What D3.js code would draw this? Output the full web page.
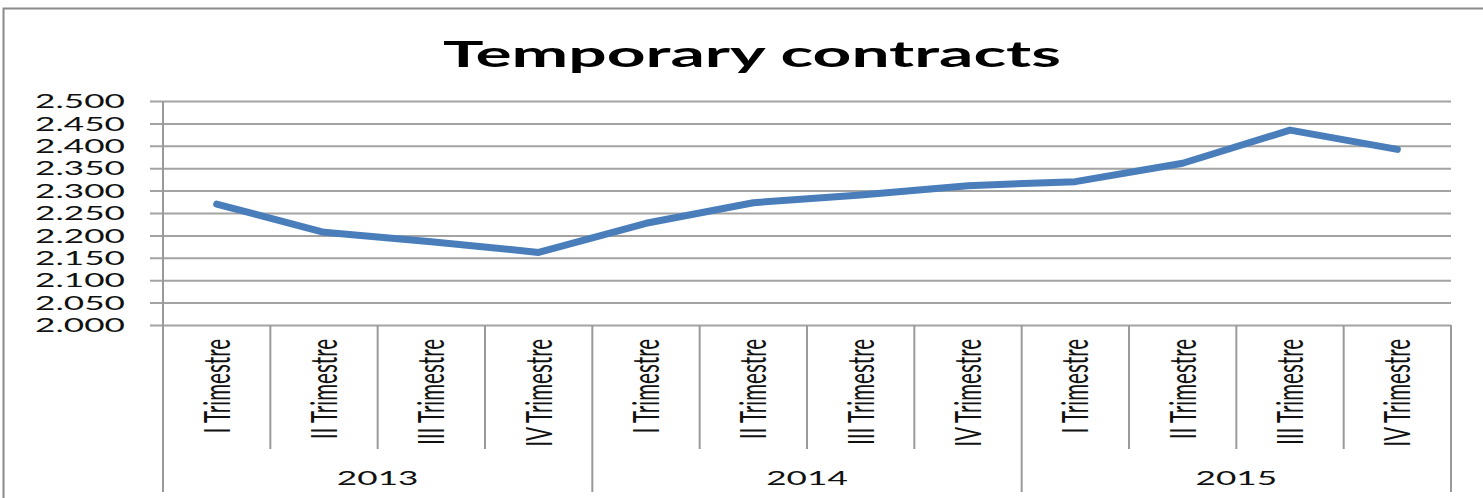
<!DOCTYPE html>
<html>
<head>
<meta charset="utf-8">
<script src="https://cdn.jsdelivr.net/npm/d3@7"></script>
<style>
  html, body { margin: 0; padding: 0; background: #fff; }
  svg { display: block; }
</style>
</head>
<body>
<svg id="chart" width="1483" height="498"></svg>
<script>
const title = "Temporary contracts";
const categories = ["I Trimestre", "II Trimestre", "III Trimestre", "IV Trimestre",
                    "I Trimestre", "II Trimestre", "III Trimestre", "IV Trimestre",
                    "I Trimestre", "II Trimestre", "III Trimestre", "IV Trimestre"];
const years = ["2013", "2014", "2015"];
const values = [2.270, 2.207, 2.186, 2.162, 2.227, 2.273, 2.290, 2.311, 2.320, 2.361, 2.435, 2.392];
const yTicks = [2.000, 2.050, 2.100, 2.150, 2.200, 2.250, 2.300, 2.350, 2.400, 2.450, 2.500];

const KX = 1.76;            // horizontal stretch of the original picture
const plot = { left: 163, right: 1451, top: 101, bottom: 325 };
const gridColor = "#a3a3a3";
const axisColor = "#9a9a9a";

const svg = d3.select("#chart");

// outer frame
svg.append("rect")
  .attr("x", 3.5).attr("y", 8.5).attr("width", 1520).attr("height", 520)
  .attr("fill", "none").attr("stroke", "#8a8a8a").attr("stroke-width", 2);

const x = d3.scaleBand().domain(d3.range(categories.length)).range([plot.left, plot.right]).padding(0);
const xYear = d3.scaleBand().domain(years).range([plot.left, plot.right]).padding(0);
const y = d3.scaleLinear().domain([2.0, 2.5]).range([plot.bottom, plot.top]);

// title
svg.append("text")
  .attr("transform", `translate(752,67) scale(${KX * 1.04},1)`)
  .attr("text-anchor", "middle")
  .style("font-family", "Lato, 'Open Sans', sans-serif")
  .style("font-weight", "bold")
  .style("font-size", "37px")
  .attr("fill", "#000")
  .text(title);

// gridlines via axis
const gridAxis = d3.axisLeft(y).tickValues(yTicks)
  .tickSize(-(plot.right - 150)).tickFormat("");
const gg = svg.append("g").attr("transform", "translate(150,0)").call(gridAxis);
gg.select(".domain").remove();
gg.selectAll(".tick line").attr("stroke", gridColor).attr("stroke-width", 2);

// y tick labels
const fmt = d3.format(".3f");
svg.append("g").selectAll("text").data(yTicks).join("text")
  .attr("transform", d => `translate(125,${y(d)}) scale(${KX},1)`)
  .attr("text-anchor", "end")
  .attr("dy", "0.36em")
  .style("font-family", "Lato, 'Open Sans', sans-serif")
  .style("font-size", "20px")
  .attr("fill", "#111")
  .text(d => fmt(d));

// vertical axis line
svg.append("line")
  .attr("x1", plot.left).attr("x2", plot.left)
  .attr("y1", plot.top).attr("y2", 492)
  .attr("stroke", axisColor).attr("stroke-width", 2);

// category separators
const bounds = d3.range(1, categories.length + 1);
svg.append("g").selectAll("line").data(bounds).join("line")
  .attr("x1", i => plot.left + i * x.step())
  .attr("x2", i => plot.left + i * x.step())
  .attr("y1", plot.bottom)
  .attr("y2", i => (i % 4 === 0) ? 492 : 449)
  .attr("stroke", axisColor).attr("stroke-width", 2);

// category labels (rotated)
svg.append("g").selectAll("text").data(categories).join("text")
  .attr("transform", (d, i) => `translate(${x(i) + x.bandwidth() / 2},339) scale(${KX},1) rotate(-90)`)
  .attr("text-anchor", "end")
  .attr("dy", "0.36em")
  .style("font-family", "Lato, 'Open Sans', sans-serif")
  .style("font-size", "20.5px")
  .attr("fill", "#111")
  .text(d => d);

// year labels
svg.append("g").selectAll("text").data(years).join("text")
  .attr("transform", d => `translate(${xYear(d) + xYear.bandwidth() / 2},485) scale(${KX},1)`)
  .attr("text-anchor", "middle")
  .style("font-family", "Lato, 'Open Sans', sans-serif")
  .style("font-size", "20px")
  .attr("fill", "#111")
  .text(d => d);

// series line
const line = d3.line()
  .x((d, i) => x(i) + x.bandwidth() / 2)
  .y(d => y(d));
svg.append("path")
  .datum(values)
  .attr("d", line)
  .attr("fill", "none")
  .attr("stroke", "#4a7ebb")
  .attr("stroke-width", 7)
  .attr("stroke-linecap", "round")
  .attr("stroke-linejoin", "round");
</script>
</body>
</html>
